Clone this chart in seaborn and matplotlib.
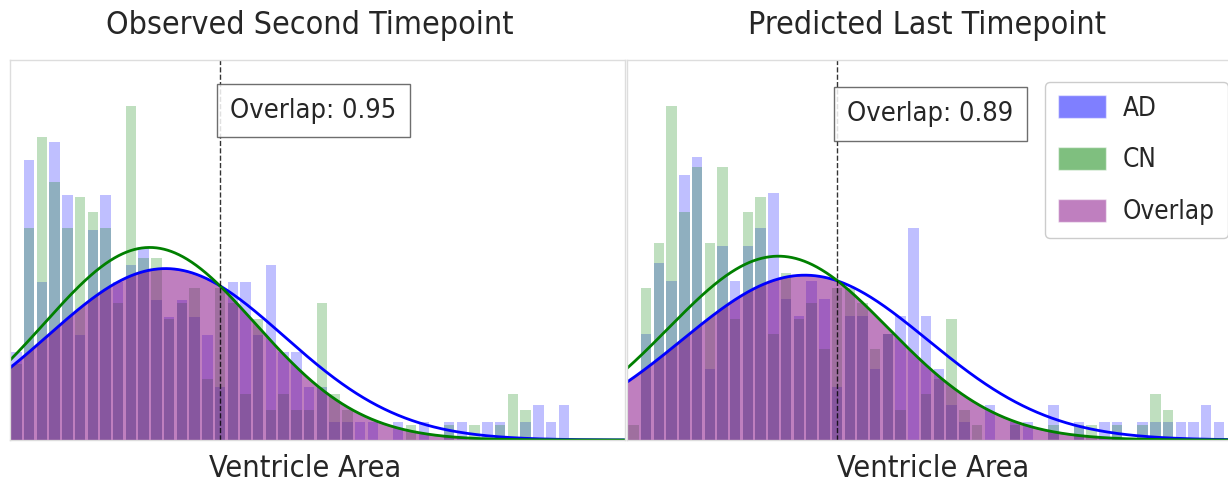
import numpy as np
import pandas as pd
import matplotlib
matplotlib.use("Agg")
import matplotlib.pyplot as plt
from matplotlib.patches import Patch
import seaborn as sns

# ---- data -------------------------------------------------------------
TITLES = ["Observed Second Timepoint", "Predicted Last Timepoint"]
XLABEL = "Ventricle Area"
GROUPS = ["AD", "CN"]
OVERLAP_SCORE = [0.95, 0.89]
BIN_WIDTH = 0.0207          # width of one histogram bin (normalised area)

# subjects per bin, first bin starting at 0
AD_OBSERVED = [5, 16, 9, 17, 14, 6, 12, 14, 9, 10, 11, 8, 7, 8, 7, 6, 3, 9, 9, 6,
               10, 5, 5, 3, 3, 1, 1, 1, 1, 0, 1, 0, 1, 0, 1, 1, 0, 1, 1, 0,
               1, 2, 1, 2]
CN_OBSERVED = [5, 14, 20, 17, 14, 16, 15, 14, 9, 22, 12, 12, 8, 9, 10, 4, 10, 9, 3, 8,
               2, 3, 2, 2, 9, 3, 2, 0, 0, 0, 0, 1, 0, 0, 1, 0, 1, 0, 1, 3,
               2, 0, 0, 0]
AD_PREDICTED = [0, 6, 10, 9, 15, 16, 4, 11, 9, 11, 12, 14, 8, 7, 9, 8, 3, 7, 7, 4,
                6, 7, 12, 7, 4, 2, 1, 0, 2, 0, 1, 1, 0, 2, 0, 1, 0, 1, 1, 0,
                1, 1, 1, 1, 1, 2, 1]
CN_PREDICTED = [1, 10, 13, 22, 15, 18, 13, 18, 8, 15, 16, 7, 11, 8, 9, 6, 10, 10, 9, 6,
                7, 2, 0, 3, 4, 8, 2, 1, 0, 0, 1, 0, 0, 1, 0, 1, 1, 0, 1, 0,
                1, 3, 2, 0, 0, 0, 0]

PANELS = [(AD_OBSERVED, CN_OBSERVED), (AD_PREDICTED, CN_PREDICTED)]
COLORS = {"AD": "blue", "CN": "green", "Overlap": "purple"}

# ---- style ------------------------------------------------------------
sns.set_theme(style="whitegrid")
plt.rcParams["font.family"] = ["DejaVu Sans"]
plt.rcParams["font.stretch"] = "condensed"

fig = plt.figure(figsize=(12.28, 4.90), dpi=100)
W, H = 1228.0, 490.0
axes = [fig.add_axes([10 / W, 50 / H, 615 / W, 380 / H]),
        fig.add_axes([627 / W, 50 / H, 615 / W, 380 / H])]
XLIM = (0.0, 1.0)
YLIM = (0.0, 4.6)
xlabel_x = [0.480, 0.498]
box_y = [0.867, 0.858]


def norm_pdf(x, mu, sd):
    return np.exp(-0.5 * ((x - mu) / sd) ** 2) / (sd * np.sqrt(2 * np.pi))


for i, (ax, (ad_counts, cn_counts)) in enumerate(zip(axes, PANELS)):
    fits = {}
    for name, counts in zip(GROUPS, (ad_counts, cn_counts)):
        counts = np.asarray(counts, dtype=float)
        n_bins = len(counts)
        centers = (np.arange(n_bins) + 0.5) * BIN_WIDTH
        df = pd.DataFrame({"area": centers, "n": counts})
        sns.histplot(data=df, x="area", weights="n", binwidth=BIN_WIDTH,
                     binrange=(0, n_bins * BIN_WIDTH), stat="density",
                     color=COLORS[name], alpha=0.25, shrink=0.82, linewidth=0,
                     ax=ax)
        # normal fit of each group
        mu = np.sum(centers * counts) / counts.sum()
        sd = np.sqrt(np.sum(counts * (centers - mu) ** 2) / counts.sum())
        fits[name] = (mu, sd)

    xs = np.linspace(XLIM[0], XLIM[1], 1500)
    pdf_ad = norm_pdf(xs, *fits["AD"])
    pdf_cn = norm_pdf(xs, *fits["CN"])
    ax.plot(xs, pdf_ad, color=COLORS["AD"], lw=2)
    ax.plot(xs, pdf_cn, color=COLORS["CN"], lw=2)
    ax.fill_between(xs, np.minimum(pdf_ad, pdf_cn), color=COLORS["Overlap"],
                    alpha=0.5)

    # crossing point of the two fitted curves next to their means
    diff = np.sign(pdf_ad - pdf_cn)
    idx = np.where(np.diff(diff) != 0)[0]
    mid = 0.5 * (fits["AD"][0] + fits["CN"][0])
    cross = xs[idx[np.argmin(np.abs(xs[idx] - mid))]]
    ax.axvline(cross, color="black", linestyle="--", lw=1, alpha=0.8)

    ax.text(0.358, box_y[i], f"Overlap: {OVERLAP_SCORE[i]:.2f}",
            transform=ax.transAxes, ha="left", va="center", fontsize=19.5,
            bbox=dict(boxstyle="square,pad=0.5", facecolor="white",
                      edgecolor="#555555", alpha=0.85))

    ax.set_xlim(*XLIM)
    ax.set_ylim(*YLIM)
    ax.grid(False)
    ax.set_xticks([])
    ax.set_yticks([])
    ax.set_ylabel("")
    ax.set_title(TITLES[i], fontsize=23, x=0.488, pad=19)
    ax.set_xlabel(XLABEL, fontsize=22)
    ax.xaxis.set_label_coords(xlabel_x[i], -0.038)
    for sp in ax.spines.values():
        sp.set_color("#dddddd")
        sp.set_linewidth(1)

handles = [Patch(facecolor=COLORS[k], alpha=0.5, label=k)
           for k in ["AD", "CN", "Overlap"]]
fig.legend(handles=handles, loc="upper left",
           bbox_to_anchor=(1045 / W, 1 - 82 / H), bbox_transform=fig.transFigure,
           borderaxespad=0, fontsize=18.7, handlelength=1.85, handleheight=1.0,
           labelspacing=0.98, handletextpad=0.65, borderpad=0.5,
           frameon=True, edgecolor="#cccccc", facecolor="white", framealpha=1)

fig.savefig("out.png", dpi=100)
